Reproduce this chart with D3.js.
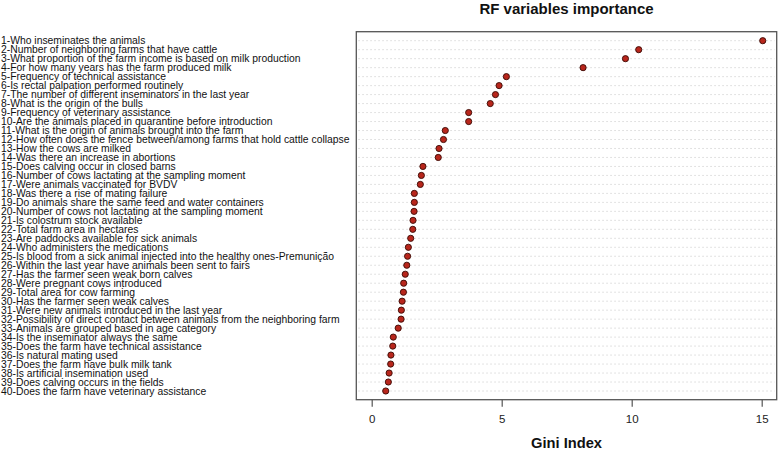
<!DOCTYPE html>
<html><head><meta charset="utf-8">
<script src="https://cdn.jsdelivr.net/npm/d3@7"></script>
<style>body{margin:0;background:#fff}svg{display:block}text{font-family:"Liberation Sans",Arial,sans-serif}</style>
</head><body>
<svg id="c" width="778" height="449"></svg>
<script>
const variables = [
"1-Who inseminates the animals",
"2-Number of neighboring farms that have cattle",
"3-What proportion of the farm income is based on milk production",
"4-For how many years has the farm produced milk",
"5-Frequency of technical assistance",
"6-Is rectal palpation performed routinely",
"7-The number of different inseminators in the last year",
"8-What is the origin of the bulls",
"9-Frequency of veterinary assistance",
"10-Are the animals placed in quarantine before introduction",
"11-What is the origin of animals brought into the farm",
"12-How often does the fence between/among farms that hold cattle collapse",
"13-How the cows are milked",
"14-Was there an increase in abortions",
"15-Does calving occur in closed barns",
"16-Number of cows lactating at the sampling moment",
"17-Were animals vaccinated for BVDV",
"18-Was there a rise of mating failure",
"19-Do animals share the same feed and water containers",
"20-Number of cows not lactating at the sampling moment",
"21-Is colostrum stock available",
"22-Total farm area in hectares",
"23-Are paddocks available for sick animals",
"24-Who administers the medications",
"25-Is blood from a sick animal injected into the healthy ones-Premunição",
"26-Within the last year have animals been sent to fairs",
"27-Has the farmer seen weak born calves",
"28-Were pregnant cows introduced",
"29-Total area for cow farming",
"30-Has the farmer seen weak calves",
"31-Were new animals introduced in the last year",
"32-Possibility of direct contact between animals from the neighboring farm",
"33-Animals are grouped based in age category",
"34-Is the inseminator always the same",
"35-Does the farm have technical assistance",
"36-Is natural mating used",
"37-Does the farm have bulk milk tank",
"38-Is artificial insemination used",
"39-Does calving occurs in the fields",
"40-Does the farm have veterinary assistance"
];
const gini = [15.04,10.27,9.76,8.13,5.18,4.90,4.76,4.56,3.73,3.73,
2.83,2.76,2.59,2.56,1.97,1.91,1.87,1.64,1.64,1.63,
1.59,1.58,1.50,1.41,1.38,1.35,1.29,1.23,1.22,1.17,
1.14,1.13,1.02,0.83,0.81,0.74,0.73,0.67,0.64,0.54];
const xTicks = [0,5,10,15];
const chartTitle = "RF variables importance";
const xTitle = "Gini Index";

const svg = d3.select("#c");
const box = {l:356.3, r:776.7, t:31.7, b:399.7};
const x = d3.scaleLinear().domain([0,15]).range([371.7,761.7]);
const y = d3.scalePoint().domain(variables).range([40.7,391]);

// grid lines
svg.append("g").selectAll("line").data(variables).join("line")
  .attr("x1",box.l+2).attr("x2",box.r-2)
  .attr("y1",d=>y(d)).attr("y2",d=>y(d))
  .attr("stroke","#cfcfcf").attr("stroke-width",0.8).attr("stroke-dasharray","1.5,2.5");

// labels
const lab = svg.append("g").selectAll("text").data(variables).join("text")
  .attr("x",1).attr("y",d=>y(d)).attr("dy","0.36em")
  .attr("font-size",12).attr("fill","#111").text(d=>d);
const ref = lab.filter((d,i)=>i===11).node();
const w = ref.getComputedTextLength();
const fs = 12*349/w;
lab.attr("font-size",fs);

// box
svg.append("rect").attr("x",box.l).attr("y",box.t).attr("width",box.r-box.l).attr("height",box.b-box.t)
  .attr("fill","none").attr("stroke","#555").attr("stroke-width",1.3);

// axis
const ax = svg.append("g").attr("transform",`translate(0,${box.b})`)
  .call(d3.axisBottom(x).tickValues(xTicks).tickSize(7).tickPadding(8).tickFormat(d3.format("d")));
ax.select(".domain").remove();
ax.selectAll("line").attr("stroke","#555").attr("stroke-width",1.2);
ax.selectAll("text").attr("font-size",11.5).attr("fill","#222").attr("font-family","Liberation Sans, Arial, sans-serif");

// points
svg.append("g").selectAll("circle").data(variables).join("circle")
  .attr("cx",(d,i)=>x(gini[i])).attr("cy",d=>y(d)).attr("r",3.1)
  .attr("fill","#b8261c").attr("stroke","#3a0a05").attr("stroke-width",0.9);

// titles
const cx = (box.l+box.r)/2;
svg.append("text").attr("x",cx).attr("y",14).attr("text-anchor","middle")
  .attr("font-size",15).attr("font-weight","bold").attr("fill","#111").text(chartTitle);
svg.append("text").attr("x",cx).attr("y",447.5).attr("text-anchor","middle")
  .attr("font-size",14.7).attr("font-weight","bold").attr("fill","#111").text(xTitle);
</script>
</body></html>
